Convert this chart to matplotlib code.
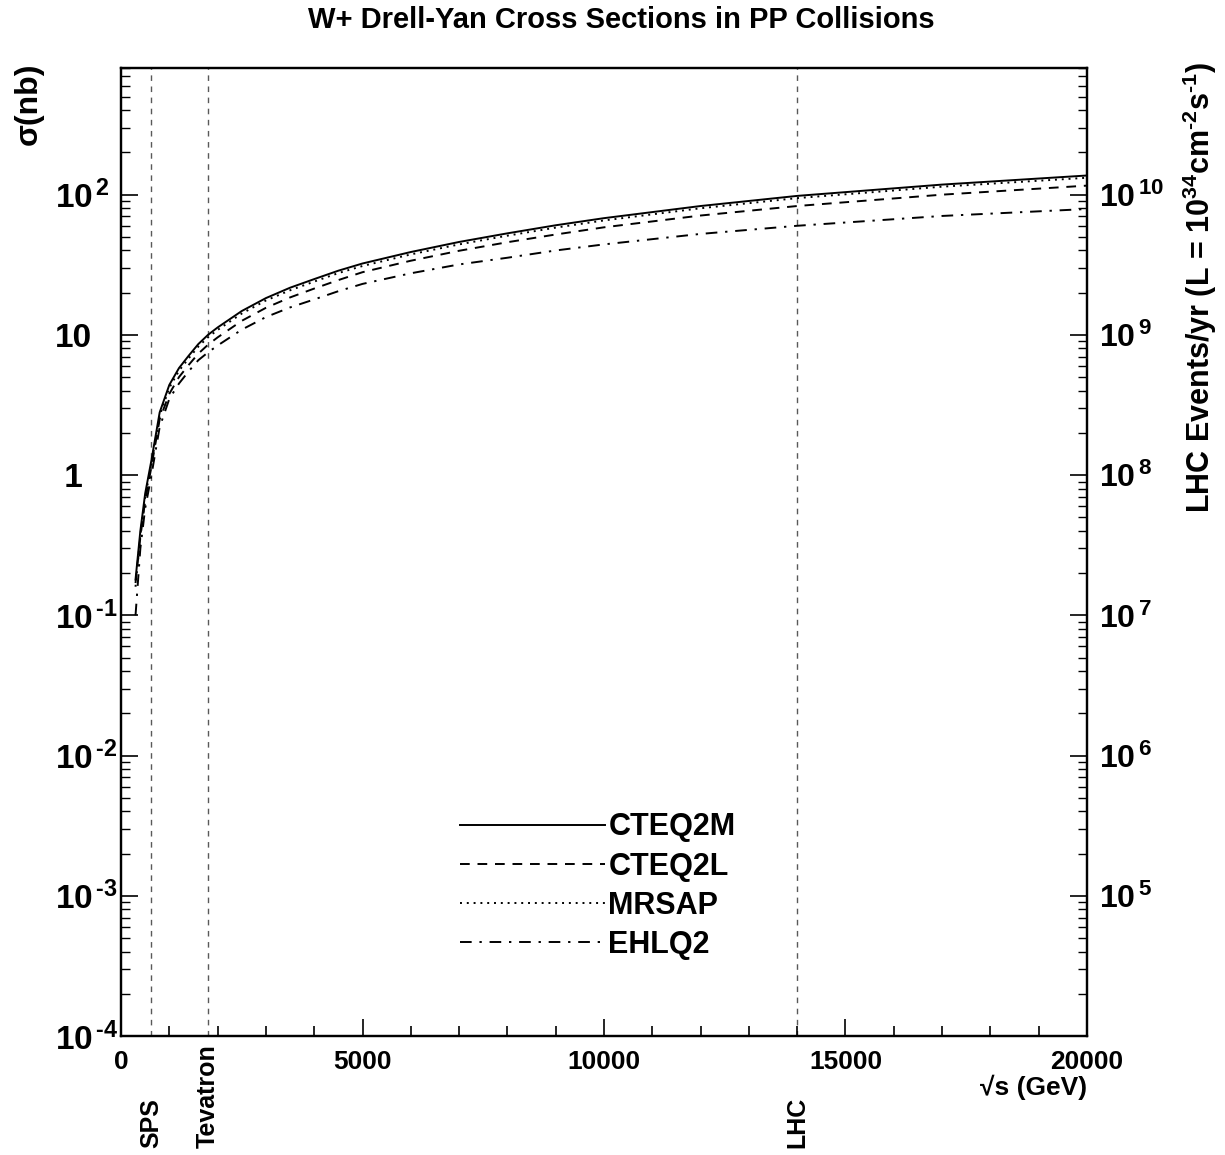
import numpy as np
import matplotlib
matplotlib.use("Agg")
import matplotlib.pyplot as plt
import matplotlib.transforms as mtransforms
from matplotlib.ticker import MultipleLocator, LogLocator, NullFormatter

plt.rcParams['font.family'] = ['Liberation Sans', 'DejaVu Sans']
plt.rcParams['font.weight'] = 'bold'
plt.rcParams['mathtext.fontset'] = 'custom'
plt.rcParams['mathtext.rm'] = 'Liberation Sans:bold'
plt.rcParams['mathtext.it'] = 'Liberation Sans:bold'
plt.rcParams['mathtext.bf'] = 'Liberation Sans:bold'

# sqrt(s) in GeV
energy = [300, 400, 500, 630, 800, 1000, 1200, 1400, 1600, 1800, 2000, 2500,
          3000, 3500, 4000, 4500, 5000, 6000, 7000, 8000, 9000, 10000,
          12000, 14000, 17000, 20000]

# W+ cross sections (nb) per PDF set
cteq2m = [0.18, 0.40, 0.74, 1.28, 2.8, 4.4, 5.8, 7.1, 8.6, 10.0, 11.3, 14.8,
          18.3, 21.7, 25.0, 28.7, 32.3, 39.0, 46.0, 53.0, 60.5, 68.0,
          83.0, 98.0, 118.0, 137.0]
cteq2l = [0.17, 0.36, 0.66, 1.15, 2.5, 3.8, 5.0, 6.1, 7.35, 8.5, 9.6, 12.6,
          15.6, 18.5, 21.4, 24.6, 28.0, 33.8, 39.8, 45.8, 52.0, 58.5,
          71.0, 83.0, 100.0, 116.0]
mrsap = [0.16, 0.37, 0.70, 1.20, 2.65, 4.2, 5.55, 6.8, 8.25, 9.6, 10.85, 14.2,
         17.6, 20.8, 24.0, 27.6, 31.0, 37.5, 44.2, 51.0, 58.2, 65.5,
         80.0, 94.5, 114.0, 132.0]
ehlq2 = [0.10, 0.30, 0.58, 1.00, 2.2, 3.5, 4.5, 5.5, 6.6, 7.5, 8.4, 10.9,
         13.4, 15.7, 17.9, 20.5, 23.1, 27.5, 31.8, 35.5, 40.0, 44.2,
         52.5, 60.0, 70.5, 79.0]

colliders = ['SPS', 'Tevatron', 'LHC']
collider_energy = [630, 1800, 14000]

# nb -> events/yr at L = 1e34 cm^-2 s^-1, 1e7 s
events_factor = 1e8

fig = plt.figure(figsize=(12.25, 11.55), dpi=100)
ax = fig.add_axes([0.0988, 0.1030, 0.7885, 0.8381])

for e in collider_energy:
    ax.axvline(e, color='0.35', lw=1.0, ls=(0, (4, 4)), zorder=1)

ax.plot(energy, cteq2m, color='black', lw=1.4, ls='-', label='CTEQ2M')
ax.plot(energy, cteq2l, color='black', lw=1.4, ls=(0, (5, 4)), label='CTEQ2L')
ax.plot(energy, mrsap, color='black', lw=1.4, ls=(0, (1, 2.5)), label='MRSAP')
ax.plot(energy, ehlq2, color='black', lw=1.4, ls=(0, (6, 4, 1.2, 4)), label='EHLQ2')

ax.set_yscale('log')
ax.set_xlim(0, 20000)
ax.set_ylim(1e-4, 800)

# x axis
ax.xaxis.set_major_locator(MultipleLocator(5000))
ax.xaxis.set_minor_locator(MultipleLocator(1000))
ax.tick_params(axis='x', which='major', direction='in', length=12, width=1.2,
               labelsize=19, pad=10, top=False)
ax.tick_params(axis='x', which='minor', direction='in', length=7, width=1.2, top=False)

# left y axis
yticks = [1e-4, 1e-3, 1e-2, 1e-1, 1, 10, 100]
ylabels = [r'$10^{\,\text{-}4}$', r'$10^{\,\text{-}3}$', r'$10^{\,\text{-}2}$',
           r'$10^{\,\text{-}1}$', ' 1', '10', r'$10^{\,2}$']
ax.set_yticks(yticks, labels=ylabels, ha='left')
ax.yaxis.set_minor_locator(LogLocator(base=10, subs=np.arange(2, 10), numticks=100))
ax.yaxis.set_minor_formatter(NullFormatter())
ax.tick_params(axis='y', which='major', direction='in', length=12, width=1.2,
               labelsize=24, pad=47.5, right=False)
ax.tick_params(axis='y', which='minor', direction='in', length=6.5, width=1.0, right=False)

# right y axis (LHC events/yr)
ax2 = ax.twinx()
ax2.set_yscale('log')
ax2.set_ylim(1e-4 * events_factor, 800 * events_factor)
rticks = [1e4, 1e5, 1e6, 1e7, 1e8, 1e9, 1e10]
rlabels = ['', r'$10^{\,5}$', r'$10^{\,6}$', r'$10^{\,7}$', r'$10^{\,8}$',
           r'$10^{\,9}$', r'$10^{\,10}$']
ax2.set_yticks(rticks, labels=rlabels)
ax2.yaxis.set_minor_locator(LogLocator(base=10, subs=np.arange(2, 10), numticks=100))
ax2.yaxis.set_minor_formatter(NullFormatter())
ax2.tick_params(axis='y', which='major', direction='in', length=12, width=1.2,
                labelsize=23, pad=9, left=False)
ax2.tick_params(axis='y', which='minor', direction='in', length=6.5, width=1.0, left=False)

for a in (ax, ax2):
    for sp in a.spines.values():
        sp.set_linewidth(1.6)

# labels
ax.text(-0.096, 1.006, 'σ(nb)', transform=ax.transAxes, rotation=90,
        ha='center', va='top', fontsize=23)
ax.text(1.117, 1.006,
        r'LHC Events/yr (L = 10$^{34}$cm$^{\text{-}2}$s$^{\text{-}1}$)',
        transform=ax.transAxes, rotation=90, ha='center', va='top', fontsize=22)
ax.text(1.0, -0.053, '√s (GeV)', transform=ax.transAxes, ha='right', va='center',
        fontsize=19)

fig.text(0.507, 1 - 20 / 1155, 'W+ Drell-Yan Cross Sections in PP Collisions',
         ha='center', va='center', fontsize=21)

trans = mtransforms.blended_transform_factory(ax.transData, fig.transFigure)
for name, e in zip(colliders, collider_energy):
    ax.text(e, 0.006, name, transform=trans, rotation=90, ha='center', va='bottom',
            fontsize=18)

ax.legend(loc='upper left', bbox_to_anchor=(0.351, 0.231), frameon=False,
          handlelength=4.75, handletextpad=0.1, labelspacing=0.3,
          borderpad=0, borderaxespad=0, prop={'size': 22, 'weight': 'bold'})

fig.savefig('out.png', dpi=100)
